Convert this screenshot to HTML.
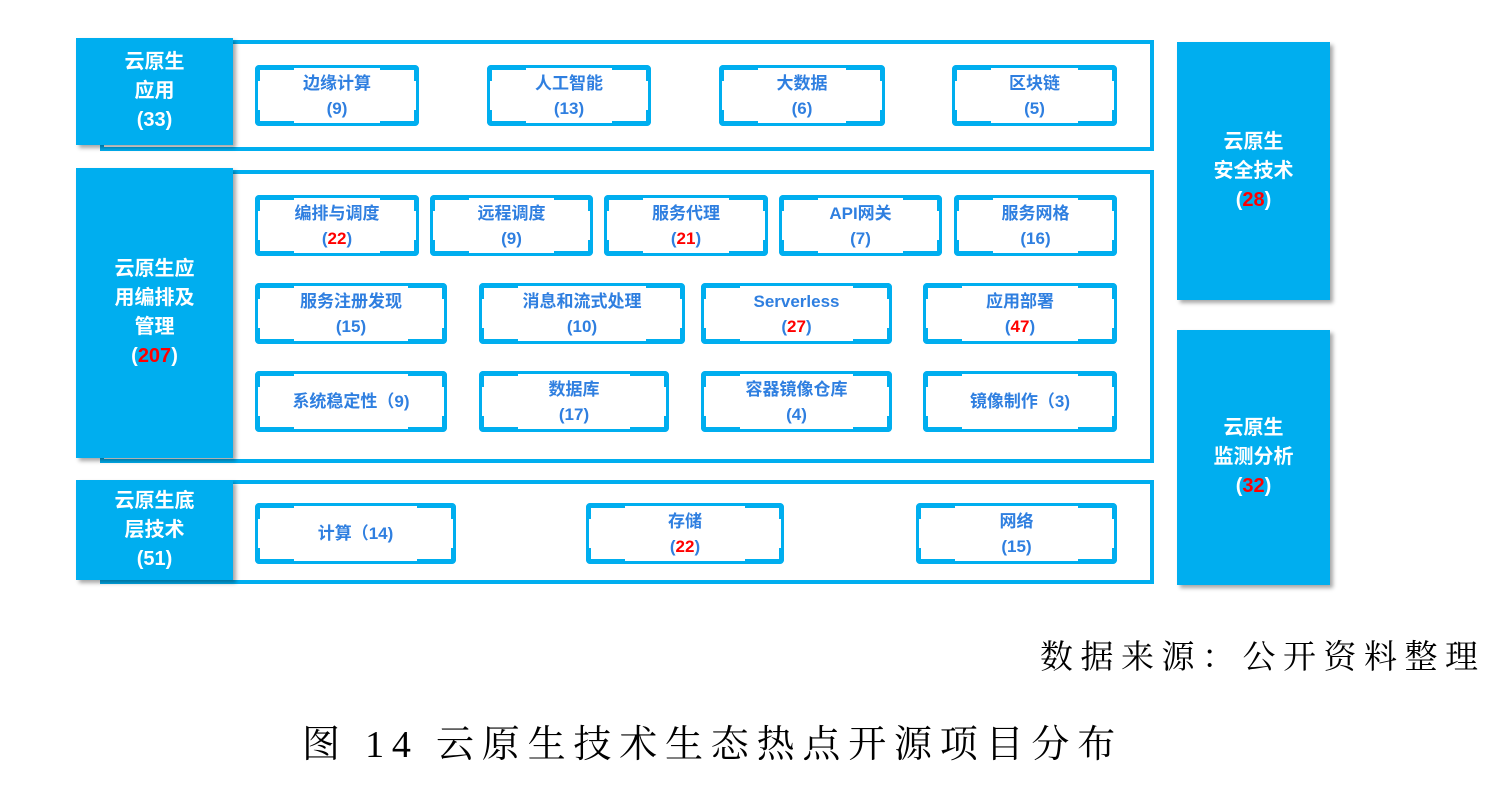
<!DOCTYPE html>
<html><head><meta charset="utf-8">
<style>
body{margin:0;width:1492px;height:809px;background:#fff;position:relative;overflow:hidden;font-family:"Liberation Sans","Microsoft YaHei","Noto Sans CJK SC",sans-serif;}
.a{position:absolute;box-sizing:border-box;}
.frame{border:4px solid #00AEEF;}
.lab{background:#00AEEF;color:#fff;font-weight:bold;font-size:20px;line-height:29px;display:flex;align-items:center;justify-content:center;text-align:center;box-shadow:3px 3px 4px rgba(0,0,0,0.35);}
.b{border:3px solid #00AEEF;border-radius:4px;color:#2F7FE0;font-weight:bold;font-size:17px;line-height:25px;display:flex;align-items:center;justify-content:center;text-align:center;}
.c{position:absolute;width:34px;height:11px;border-color:#00AEEF;border-style:solid;border-width:0;}
.tl{left:-3px;top:-3px;border-top-width:5px;border-left-width:5px;border-top-left-radius:5px;}
.tr{right:-3px;top:-3px;border-top-width:5px;border-right-width:5px;border-top-right-radius:5px;}
.bl{left:-3px;bottom:-3px;border-bottom-width:5px;border-left-width:5px;border-bottom-left-radius:5px;}
.br{right:-3px;bottom:-3px;border-bottom-width:5px;border-right-width:5px;border-bottom-right-radius:5px;}
.r{color:#FF0000;}
.serif{font-family:"Liberation Serif","Noto Serif CJK SC",serif;color:#000;position:absolute;white-space:nowrap;}
</style></head><body>
<div class="a frame" style="left:100px;top:40px;width:1054px;height:111px;"></div>
<div class="a frame" style="left:100px;top:170px;width:1054px;height:293px;"></div>
<div class="a frame" style="left:100px;top:480px;width:1054px;height:104px;"></div>

<div class="a lab" style="left:76px;top:38px;width:157px;height:107px;"><div>云原生<br>应用<br>(33)</div></div>
<div class="a lab" style="left:76px;top:168px;width:157px;height:290px;"><div>云原生应<br>用编排及<br>管理<br>(<span class="r">207</span>)</div></div>
<div class="a lab" style="left:76px;top:480px;width:157px;height:100px;"><div>云原生底<br>层技术<br>(51)</div></div>
<div class="a lab" style="left:1177px;top:42px;width:153px;height:258px;"><div>云原生<br>安全技术<br>(<span class="r">28</span>)</div></div>
<div class="a lab" style="left:1177px;top:330px;width:153px;height:255px;"><div>云原生<br>监测分析<br>(<span class="r">32</span>)</div></div>

<div class="a b" style="left:255px;top:65px;width:164px;height:61px;"><i class="c tl"></i><i class="c tr"></i><i class="c bl"></i><i class="c br"></i><div>边缘计算<br>(9)</div></div>
<div class="a b" style="left:487px;top:65px;width:164px;height:61px;"><i class="c tl"></i><i class="c tr"></i><i class="c bl"></i><i class="c br"></i><div>人工智能<br>(13)</div></div>
<div class="a b" style="left:719px;top:65px;width:166px;height:61px;"><i class="c tl"></i><i class="c tr"></i><i class="c bl"></i><i class="c br"></i><div>大数据<br>(6)</div></div>
<div class="a b" style="left:952px;top:65px;width:165px;height:61px;"><i class="c tl"></i><i class="c tr"></i><i class="c bl"></i><i class="c br"></i><div>区块链<br>(5)</div></div>

<div class="a b" style="left:255px;top:195px;width:164px;height:61px;"><i class="c tl"></i><i class="c tr"></i><i class="c bl"></i><i class="c br"></i><div>编排与调度<br>(<span class="r">22</span>)</div></div>
<div class="a b" style="left:430px;top:195px;width:163px;height:61px;"><i class="c tl"></i><i class="c tr"></i><i class="c bl"></i><i class="c br"></i><div>远程调度<br>(9)</div></div>
<div class="a b" style="left:604px;top:195px;width:164px;height:61px;"><i class="c tl"></i><i class="c tr"></i><i class="c bl"></i><i class="c br"></i><div>服务代理<br>(<span class="r">21</span>)</div></div>
<div class="a b" style="left:779px;top:195px;width:163px;height:61px;"><i class="c tl"></i><i class="c tr"></i><i class="c bl"></i><i class="c br"></i><div>API网关<br>(7)</div></div>
<div class="a b" style="left:954px;top:195px;width:163px;height:61px;"><i class="c tl"></i><i class="c tr"></i><i class="c bl"></i><i class="c br"></i><div>服务网格<br>(16)</div></div>

<div class="a b" style="left:255px;top:283px;width:192px;height:61px;"><i class="c tl"></i><i class="c tr"></i><i class="c bl"></i><i class="c br"></i><div>服务注册发现<br>(15)</div></div>
<div class="a b" style="left:479px;top:283px;width:206px;height:61px;"><i class="c tl"></i><i class="c tr"></i><i class="c bl"></i><i class="c br"></i><div>消息和流式处理<br>(10)</div></div>
<div class="a b" style="left:701px;top:283px;width:191px;height:61px;"><i class="c tl"></i><i class="c tr"></i><i class="c bl"></i><i class="c br"></i><div>Serverless<br>(<span class="r">27</span>)</div></div>
<div class="a b" style="left:923px;top:283px;width:194px;height:61px;"><i class="c tl"></i><i class="c tr"></i><i class="c bl"></i><i class="c br"></i><div>应用部署<br>(<span class="r">47</span>)</div></div>

<div class="a b" style="left:255px;top:371px;width:192px;height:61px;"><i class="c tl"></i><i class="c tr"></i><i class="c bl"></i><i class="c br"></i><div>系统稳定性（9)</div></div>
<div class="a b" style="left:479px;top:371px;width:190px;height:61px;"><i class="c tl"></i><i class="c tr"></i><i class="c bl"></i><i class="c br"></i><div>数据库<br>(17)</div></div>
<div class="a b" style="left:701px;top:371px;width:191px;height:61px;"><i class="c tl"></i><i class="c tr"></i><i class="c bl"></i><i class="c br"></i><div>容器镜像仓库<br>(4)</div></div>
<div class="a b" style="left:923px;top:371px;width:194px;height:61px;"><i class="c tl"></i><i class="c tr"></i><i class="c bl"></i><i class="c br"></i><div>镜像制作（3)</div></div>

<div class="a b" style="left:255px;top:503px;width:201px;height:61px;"><i class="c tl"></i><i class="c tr"></i><i class="c bl"></i><i class="c br"></i><div>计算（14)</div></div>
<div class="a b" style="left:586px;top:503px;width:198px;height:61px;"><i class="c tl"></i><i class="c tr"></i><i class="c bl"></i><i class="c br"></i><div>存储<br>(<span class="r">22</span>)</div></div>
<div class="a b" style="left:916px;top:503px;width:201px;height:61px;"><i class="c tl"></i><i class="c tr"></i><i class="c bl"></i><i class="c br"></i><div>网络<br>(15)</div></div>

<div class="serif" style="left:1040px;top:636px;font-size:33px;letter-spacing:7.5px;line-height:44px;">数据来源：公开资料整理</div>
<div class="serif" style="left:302px;top:720px;font-size:38px;letter-spacing:7.8px;line-height:50px;">图 14 云原生技术生态热点开源项目分布</div>
</body></html>
